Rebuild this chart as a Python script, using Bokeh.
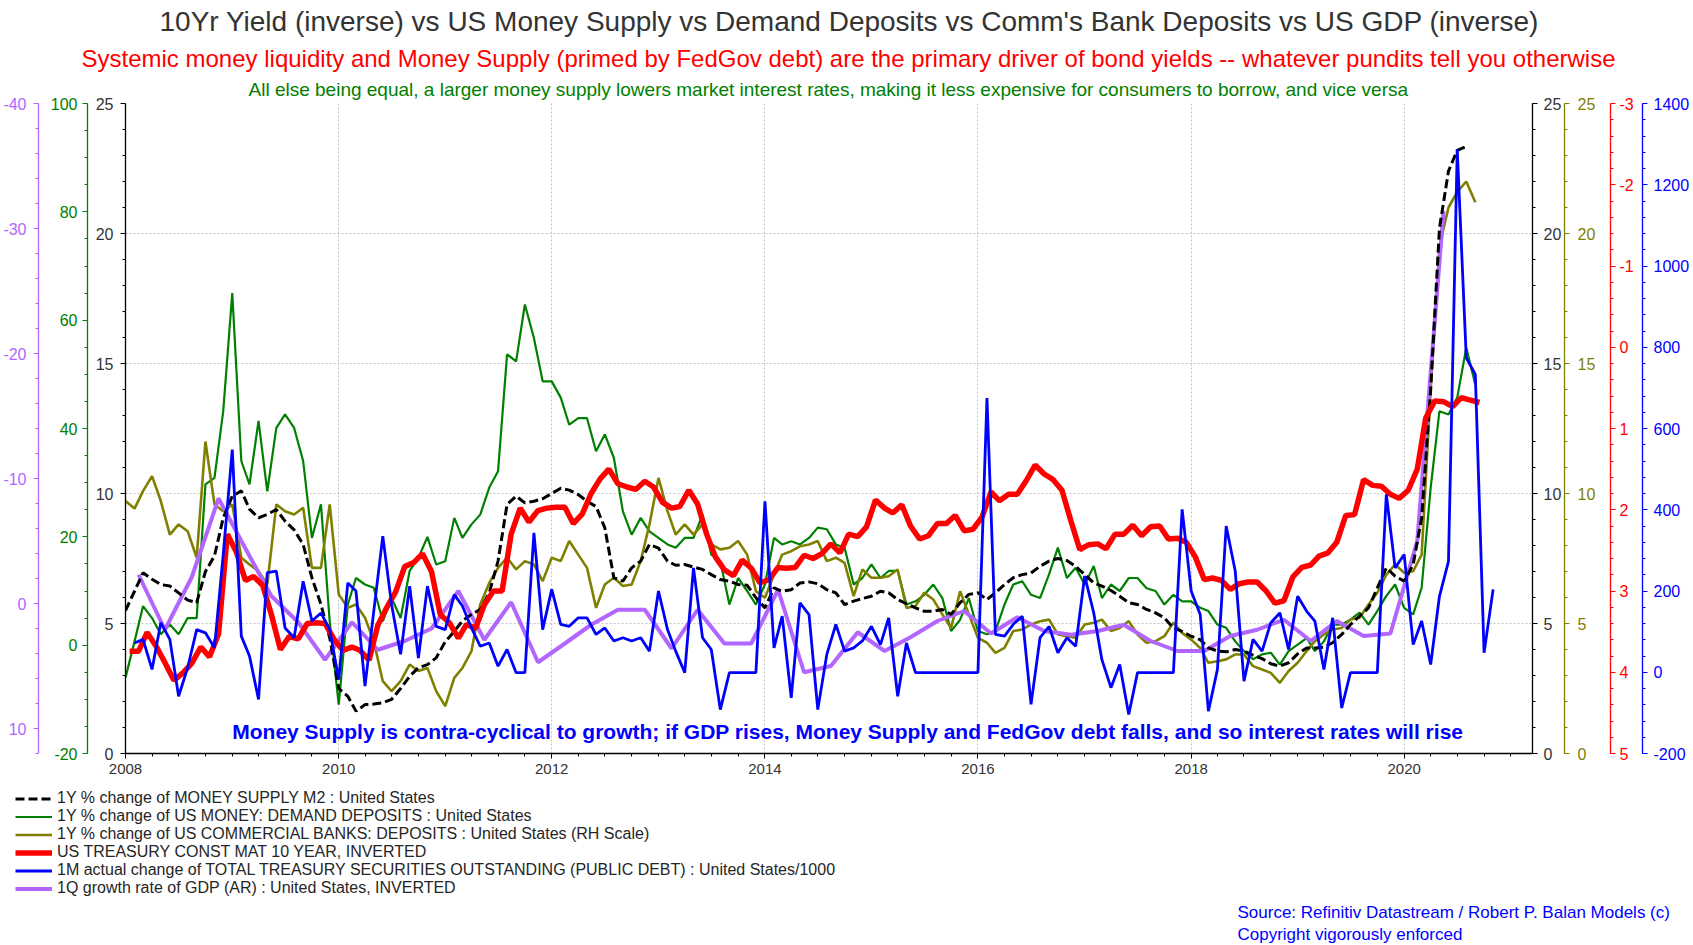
import pandas as pd
from bokeh.plotting import figure
from bokeh.layouts import column
from bokeh.models import (Range1d, LinearAxis, SingleIntervalTicker, FixedTicker,
                          DatetimeTickFormatter, CustomJSTickFormatter, Legend, LegendItem,
                          Label, Title)
from bokeh.embed import file_html
from bokeh.resources import INLINE

# ---------------- data ----------------
# 1Y % change of M2 (left/right black scale 0..25), monthly from Jan 2008
m2_yoy = [
    5.5, 6.24, 6.95, 6.7, 6.5, 6.44, 6.18, 5.9, 5.8, 7.0, 7.6, 9.06,
    9.9, 10.1, 9.4, 9.06, 9.2, 9.38, 8.94, 8.6, 8.04, 6.76, 5.73, 4.45,
    2.5, 2.2, 1.63, 1.88, 1.9, 1.95, 2.08, 2.5, 2.97, 3.3, 3.42, 3.68,
    4.3, 4.7, 5.1, 5.35, 5.54, 6.18, 7.4, 9.58, 9.9, 9.64, 9.7, 9.8,
    10.0, 10.2, 10.13, 9.96, 9.7, 9.5, 8.68, 6.76, 6.63, 7.14, 7.4, 8.04,
    7.9, 7.4, 7.24, 7.27, 7.17, 7.08, 6.88, 6.69, 6.63, 6.5, 6.47, 5.99,
    5.6, 6.37, 6.24, 6.3, 6.56, 6.6, 6.53, 6.3, 6.18, 5.73, 5.86, 5.96,
    6.05, 6.24, 6.18, 5.92, 5.76, 5.6, 5.47, 5.47, 5.54, 5.35, 5.8, 6.12,
    6.18, 5.92, 6.18, 6.5, 6.76, 6.88, 6.94, 7.2, 7.4, 7.5, 7.42, 7.2,
    6.88, 6.56, 6.44, 6.27, 6.05, 5.8, 5.73, 5.54, 5.41, 5.22, 4.83, 4.7,
    4.51, 4.38, 4.06, 3.94, 3.91, 4.0, 3.94, 3.78, 3.65, 3.45, 3.36, 3.49,
    3.83, 4.06, 4.06, 4.09, 4.26, 4.58, 4.96, 5.28, 5.6, 6.37, 7.14, 6.82,
    6.63, 7.27, 9.06, 14.0, 20.2, 22.4, 23.2, 23.35]

# 1Y % change of demand deposits (green scale -20..100), monthly from Jan 2008
demand_dep = [
    -6.0, 0.7, 7.2, 5.0, 2.0, 3.8, 2.0, 5.0, 5.0, 29.7, 30.9, 43.2,
    65.0, 34.0, 29.7, 41.4, 28.4, 40.1, 42.6, 40.1, 34.0, 19.8, 26.0, 4.4,
    -11.0, 7.5, 12.4, 11.2, 10.6, 4.4, 8.7, 5.0, 13.7, 16.1, 20.0, 14.9,
    15.5, 23.5, 19.8, 22.3, 24.1, 29.1, 32.1, 53.7, 52.4, 62.9, 56.7, 48.7,
    48.7, 45.7, 40.7, 41.9, 41.9, 35.8, 38.9, 34.6, 24.7, 20.4, 23.5, 21.0,
    19.8, 18.6, 18.0, 19.8, 19.8, 24.1, 16.7, 15.5, 7.5, 12.4, 10.0, 7.5,
    11.2, 19.8, 18.6, 19.2, 18.6, 19.8, 21.7, 21.4, 18.6, 18.0, 11.2, 12.4,
    14.9, 12.4, 13.7, 13.7, 7.5, 8.1, 9.3, 11.2, 8.7, 2.6, 4.7, 8.7,
    2.6, 2.0, 2.6, 7.5, 11.2, 11.8, 9.3, 8.7, 13.1, 18.0, 12.4, 14.3,
    11.2, 14.6, 8.7, 11.2, 10.0, 12.4, 12.4, 10.5, 10.0, 7.5, 9.3, 8.1,
    8.1, 6.9, 6.3, 3.8, 3.2, 0.7, -1.1, -2.6, -1.7, -1.4, -3.6, -1.1,
    0.1, 1.3, -1.1, 0.7, 3.8, 3.8, 4.7, 6.0, 3.8, 6.3, 9.1, 11.2,
    6.9, 5.7, 10.6, 29.1, 43.2, 42.6, 45.7, 54.9, 48.1]

# 1Y % change of commercial bank deposits (olive RH scale 0..25), monthly from Jan 2008
bank_dep = [
    9.71, 9.42, 10.09, 10.67, 9.71, 8.42, 8.81, 8.55, 7.53, 12.0, 9.58, 9.32,
    9.58, 7.53, 7.27, 7.01, 6.5, 9.58, 9.32, 9.19, 9.45, 7.14, 7.14, 9.58,
    6.12, 5.6, 5.73, 5.22, 4.32, 2.78, 2.4, 2.78, 3.42, 3.17, 3.29, 2.4,
    1.82, 2.91, 3.29, 3.94, 5.73, 6.56, 7.14, 7.53, 7.08, 7.4, 7.27, 6.63,
    7.53, 7.4, 8.17, 7.65, 7.14, 5.6, 6.5, 6.76, 6.44, 6.5, 7.4, 8.81,
    10.6, 9.32, 8.42, 8.81, 8.42, 8.81, 8.04, 7.85, 7.91, 8.17, 7.65, 6.24,
    5.99, 6.88, 7.65, 7.78, 7.97, 8.04, 8.17, 7.4, 7.53, 7.33, 6.05, 7.08,
    6.76, 6.76, 6.82, 7.08, 5.6, 5.67, 6.18, 5.92, 5.35, 4.83, 6.24, 5.35,
    4.45, 4.26, 3.87, 4.06, 4.71, 4.77, 4.96, 5.09, 5.15, 4.58, 4.51, 4.45,
    4.96, 5.03, 5.15, 4.71, 4.83, 5.09, 4.58, 4.26, 4.32, 4.51, 5.03, 4.64,
    4.38, 4.06, 3.49, 3.55, 3.62, 3.81, 3.81, 3.36, 3.23, 3.1, 2.72, 3.17,
    3.49, 3.94, 4.32, 4.58, 4.77, 4.83, 5.15, 5.22, 5.73, 6.18, 6.88, 7.27,
    6.95, 7.01, 7.65, 14.0, 19.5, 21.0, 21.6, 22.0, 21.2]

# US 10Y Treasury yield, % (red inverted scale 5..-3), mid-month from Jan 2008
ust10y = [
    3.74, 3.74, 3.51, 3.68, 3.88, 4.10, 4.01, 3.89, 3.69, 3.81, 3.53, 2.30,
    2.52, 2.87, 2.82, 2.93, 3.29, 3.72, 3.56, 3.59, 3.40, 3.39, 3.40, 3.59,
    3.73, 3.69, 3.73, 3.85, 3.42, 3.20, 3.01, 2.70, 2.65, 2.54, 2.76, 3.29,
    3.39, 3.58, 3.41, 3.46, 3.17, 3.00, 3.00, 2.30, 1.98, 2.15, 2.01, 1.98,
    1.97, 1.97, 2.17, 2.05, 1.80, 1.62, 1.50, 1.68, 1.72, 1.75, 1.65, 1.72,
    1.91, 1.98, 1.96, 1.76, 1.93, 2.30, 2.58, 2.74, 2.81, 2.62, 2.72, 2.90,
    2.86, 2.71, 2.72, 2.71, 2.56, 2.60, 2.54, 2.42, 2.53, 2.30, 2.33, 2.21,
    1.88, 1.98, 2.04, 1.94, 2.20, 2.36, 2.32, 2.17, 2.17, 2.07, 2.26, 2.24,
    2.09, 1.78, 1.89, 1.81, 1.81, 1.64, 1.45, 1.56, 1.63, 1.76, 2.14, 2.49,
    2.43, 2.42, 2.48, 2.30, 2.30, 2.19, 2.32, 2.21, 2.20, 2.36, 2.35, 2.40,
    2.58, 2.86, 2.84, 2.87, 2.98, 2.91, 2.89, 2.89, 3.00, 3.15, 3.12, 2.83,
    2.71, 2.68, 2.57, 2.53, 2.40, 2.07, 2.06, 1.63, 1.70, 1.71, 1.81, 1.86,
    1.76, 1.50, 0.87, 0.66, 0.67, 0.73, 0.62, 0.65, 0.68]

# 1M change of total public debt / 1000 (blue scale -200..1400), monthly from Feb 2008
debt_chg = [
    72, 81, 7, 122, 81, -59, 11, 105, 97, 60, 290, 548,
    89, 40, -67, 245, 249, 109, 85, 224, 126, 146, 105, -18,
    220, 200, -34, 150, 335, 167, 44, 212, 35, 212, 113, 105,
    191, 163, 109, 64, 72, 15, 56, -1, -1, 343, 105, 204,
    118, 113, 134, 134, 93, 109, 77, 85, 77, 85, 52, 200,
    105, 52, -1, 257, 85, 56, -92, -1, -1, -1, -1, 421,
    60, 138, -63, 171, 142, -92, 44, 118, 52, 60, 77, 113,
    68, 134, -59, 72, -1, -1, -1, -1, -1, -1, -1, -1,
    675, 93, 89, 118, 138, -79, 85, 113, 48, 85, 64, 237,
    146, 31, -38, 19, -104, -1, -1, -1, -1, -1, 401, 200,
    142, -96, 7, 360, 249, -22, 81, 52, 122, 146, 56, 187,
    150, 126, 7, 134, -88, -1, -1, -1, -1, 438, 257, 290,
    68, 126, 19, 187, 273, 1287, 774, 733, 48, 204]

# 1Q GDP growth (AR), % (purple inverted scale 12..-40), quarterly from Q1 2008
gdp_growth = [
    -2.3, 2.1, -2.1, -8.4, -4.4, -0.6, 1.5, 4.5, 1.5, 3.7, 3.0, 2.0,
    -1.0, 2.9, -0.1, 4.7, 3.2, 1.7, 0.5, 0.5, 3.6, 0.5, 3.2, 3.2,
    -1.1, 5.5, 5.0, 2.3, 3.8, 2.7, 1.4, 0.6, 2.4, 1.1, 2.2, 2.5,
    2.2, 1.7, 3.0, 3.8, 3.8, 2.6, 2.1, 1.3, 3.0, 1.4, 2.6, 2.4,
    -5.0, -31.4]

series_labels = [
    "1Y % change of MONEY SUPPLY M2 : United States",
    "1Y % change of US MONEY: DEMAND DEPOSITS : United States",
    "1Y % change of US COMMERCIAL BANKS: DEPOSITS : United States (RH Scale)",
    "US TREASURY CONST MAT 10 YEAR, INVERTED",
    "1M actual change of TOTAL TREASURY SECURITIES OUTSTANDING (PUBLIC DEBT) : United States/1000",
    "1Q growth rate of GDP (AR) : United States, INVERTED",
]

# ---------------- dates ----------------
m2_dates = pd.date_range("2008-01-01", periods=len(m2_yoy), freq="MS")
dd_dates = pd.date_range("2008-01-01", periods=len(demand_dep), freq="MS")
bd_dates = pd.date_range("2008-01-01", periods=len(bank_dep), freq="MS")
ust_dates = pd.date_range("2008-01-01", periods=len(ust10y), freq="MS") + pd.Timedelta(days=14)
debt_dates = pd.date_range("2008-02-01", periods=len(debt_chg), freq="MS")
gdp_dates = pd.date_range("2008-02-01", periods=len(gdp_growth), freq="3MS") + pd.Timedelta(days=14)

FONT = "Liberation Sans"
GRAY = "#333333"
C_GREEN = "#008000"
C_OLIVE = "#808000"
C_RED = "#ff0000"
C_BLUE = "#0000ff"
C_PURPLE = "#b266ff"

STYLES = {
    "black": dict(line_color="black", line_width=3, line_dash="9 4"),
    "green": dict(line_color=C_GREEN, line_width=2.2),
    "olive": dict(line_color=C_OLIVE, line_width=2.6),
    "red": dict(line_color=C_RED, line_width=5.5),
    "blue": dict(line_color=C_BLUE, line_width=2.8),
    "purple": dict(line_color=C_PURPLE, line_width=4),
}

SERIES = {
    "black": (m2_dates, m2_yoy, "default"),
    "green": (dd_dates, demand_dep, "green"),
    "olive": (bd_dates, bank_dep, "olive"),
    "red": (ust_dates, ust10y, "red"),
    "blue": (debt_dates, debt_chg, "blue"),
    "purple": (gdp_dates, gdp_growth, "purple"),
}


def ms(ts):
    return pd.Timestamp(ts).value / 1e6


W = 1692
H1 = 785
H2 = 159

p = figure(width=W, height=H1, x_axis_type="datetime", title=None,
           x_range=Range1d(pd.Timestamp("2008-01-01"), pd.Timestamp("2021-03-16")),
           y_range=Range1d(0, 25), output_backend="svg", toolbar_location=None,
           min_border_left=125, min_border_right=159, min_border_top=103, min_border_bottom=32)
p.outline_line_color = None
p.background_fill_color = "white"
p.border_fill_color = "white"

p.extra_y_ranges = {
    "green": Range1d(-20, 100),
    "purple": Range1d(12, -40),
    "olive": Range1d(0, 25),
    "red": Range1d(5, -3),
    "blue": Range1d(-200, 1400),
}

plain_fmt = CustomJSTickFormatter(code="return String(tick);")


def style_axis(ax, color, label_color, standoff, gap_standoff=None):
    ax.axis_line_color = color
    ax.axis_line_width = 1.3
    ax.major_tick_line_color = color
    ax.minor_tick_line_color = color
    ax.major_tick_out = 5
    ax.major_tick_in = 0
    ax.minor_tick_out = 3
    ax.minor_tick_in = 0
    ax.major_label_text_color = label_color
    ax.major_label_text_font = FONT
    ax.major_label_text_font_size = "16px"
    ax.major_label_standoff = standoff
    if gap_standoff is not None:
        ax.axis_label = " "
        ax.axis_label_text_font_size = "7px"
        ax.axis_label_standoff = gap_standoff


main_ticker = SingleIntervalTicker(interval=5, num_minor_ticks=5)
ymain = p.yaxis[0]
ymain.ticker = main_ticker
ymain.formatter = plain_fmt
style_axis(ymain, "black", GRAY, 7, -5)

ax_green = LinearAxis(y_range_name="green", formatter=plain_fmt,
                      ticker=SingleIntervalTicker(interval=20, num_minor_ticks=4))
style_axis(ax_green, C_GREEN, C_GREEN, 5, -1)
p.add_layout(ax_green, "left")

ax_purple = LinearAxis(y_range_name="purple", formatter=plain_fmt,
                       ticker=SingleIntervalTicker(interval=10, num_minor_ticks=5))
style_axis(ax_purple, C_PURPLE, C_PURPLE, 7)
p.add_layout(ax_purple, "left")

ax_right = LinearAxis(formatter=plain_fmt, ticker=SingleIntervalTicker(interval=5, num_minor_ticks=5))
style_axis(ax_right, "black", GRAY, 6, -10)
p.add_layout(ax_right, "right")

ax_olive = LinearAxis(y_range_name="olive", formatter=plain_fmt,
                      ticker=SingleIntervalTicker(interval=5, num_minor_ticks=5))
style_axis(ax_olive, C_OLIVE, C_OLIVE, 8, 2)
p.add_layout(ax_olive, "right")

ax_red = LinearAxis(y_range_name="red", formatter=plain_fmt,
                    ticker=SingleIntervalTicker(interval=1, num_minor_ticks=5))
style_axis(ax_red, C_RED, C_RED, 4, -4)
p.add_layout(ax_red, "right")

ax_blue = LinearAxis(y_range_name="blue", formatter=plain_fmt,
                     ticker=SingleIntervalTicker(interval=200, num_minor_ticks=5))
style_axis(ax_blue, C_BLUE, C_BLUE, 6)
p.add_layout(ax_blue, "right")

# x axis
year_ticks = [pd.Timestamp(f"{y}-01-01").value // 10**6 for y in range(2008, 2022, 2)]
quarter_ticks = [d.value // 10**6 for d in pd.date_range("2008-01-01", "2021-03-01", freq="QS")]
xt = FixedTicker(ticks=year_ticks, minor_ticks=quarter_ticks)
xax = p.xaxis[0]
xax.ticker = xt
xax.formatter = DatetimeTickFormatter(years="%Y", months="%Y", days="%Y", hours="%Y",
                                      minutes="%Y", seconds="%Y", milliseconds="%Y")
style_axis(xax, "black", GRAY, 5)
xax.major_label_text_font_size = "15px"

for g in (p.xgrid[0], p.ygrid[0]):
    g.grid_line_color = "#c4c4c4"
    g.grid_line_dash = "2 2"
    g.grid_line_width = 1
p.xgrid[0].ticker = xt
p.ygrid[0].ticker = main_ticker

# ---------------- series ----------------
for key in ["green", "olive", "purple", "black", "red", "blue"]:
    xs, ys, rng = SERIES[key]
    p.line(xs, ys, y_range_name=rng, **STYLES[key])

note = Label(x=ms("2014-10-12"), y=0.85,
             text="Money Supply is contra-cyclical to growth; if GDP rises, Money Supply and FedGov debt falls, and so interest rates will rise",
             text_align="center", text_baseline="middle", text_color=C_BLUE,
             text_font=FONT, text_font_style="bold", text_font_size="21px")
p.add_layout(note)

# ---------------- titles ----------------
p.add_layout(Title(text="All else being equal, a larger money supply lowers market interest rates, making it less expensive for consumers to borrow, and vice versa",
                   align="left", offset=123, text_color=C_GREEN, text_font=FONT, text_font_style="normal",
                   text_font_size="19px", standoff=7), "above")
p.add_layout(Title(text="Systemic money liquidity and Money Supply (primed by FedGov debt) are the primary driver of bond yields -- whatever pundits tell you otherwise",
                   align="left", offset=-44, text_color=C_RED, text_font=FONT, text_font_style="normal",
                   text_font_size="24px", standoff=4), "above")
p.add_layout(Title(text="10Yr Yield (inverse) vs US Money Supply vs Demand Deposits vs Comm's Bank Deposits vs US GDP (inverse)",
                   align="left", offset=34, text_color=GRAY, text_font=FONT, text_font_style="normal",
                   text_font_size="28px", standoff=7), "above")

# ---------------- legend & source panel (below the chart) ----------------
p2 = figure(width=W, height=H2, x_range=Range1d(0, W), y_range=Range1d(0, H2),
            x_axis_location=None, y_axis_location=None, title=None,
            output_backend="svg", toolbar_location=None,
            min_border_left=0, min_border_right=0, min_border_top=0, min_border_bottom=0)
p2.outline_line_color = None
p2.xgrid.visible = False
p2.ygrid.visible = False
for fig in (p, p2):
    try:
        fig.frame_align = False
    except Exception:
        pass

keys = ["black", "green", "olive", "red", "blue", "purple"]
# the same series, far outside this panel's view: only their legend samples show
legend_renderers = []
for key in keys:
    xs, ys, _ = SERIES[key]
    legend_renderers.append(p2.line(xs, ys, **STYLES[key]))

legend = Legend(items=[LegendItem(label=lab, renderers=[r]) for lab, r in zip(series_labels, legend_renderers)],
                location=(15, 47), orientation="vertical", background_fill_alpha=0,
                border_line_color=None, label_text_font=FONT, label_text_font_size="16px",
                label_text_color="#262626", glyph_width=37, glyph_height=15, label_height=15,
                spacing=-2, padding=0, margin=0, label_standoff=5)
p2.add_layout(legend)

p2.add_layout(Label(x=1237, y=32, text="Source: Refinitiv Datastream /  Robert P. Balan Models (c)",
                    text_align="left", text_baseline="middle", text_color=C_BLUE,
                    text_font=FONT, text_font_size="17px"))
p2.add_layout(Label(x=1237, y=10, text="Copyright vigorously enforced",
                    text_align="left", text_baseline="middle", text_color=C_BLUE,
                    text_font=FONT, text_font_size="17px"))

layout = column(p, p2, spacing=0)
open("out.html", "w").write(file_html(layout, INLINE))
